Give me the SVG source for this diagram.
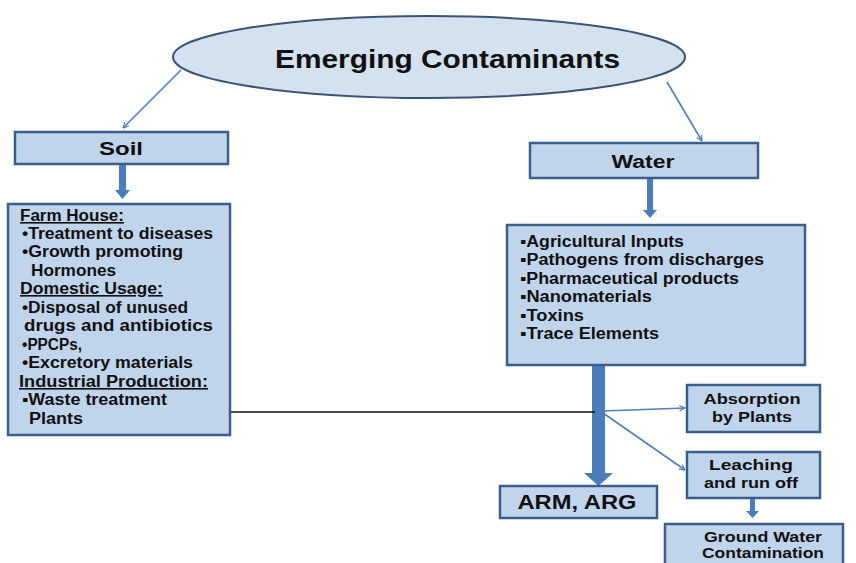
<svg xmlns="http://www.w3.org/2000/svg" width="856" height="563" viewBox="0 0 856 563">
<style>
.box{fill:#c0d4ec;stroke:#3a5f8c;stroke-width:2.5}
.t{font-family:"Liberation Sans",Arial,sans-serif;font-weight:bold;fill:#111}
.c{text-anchor:middle}
.u{text-decoration:underline}
.thin{stroke:#4f7fba;stroke-width:1.6;fill:none}
.fat{fill:#4a7ebb}
</style>
<defs>
<marker id="ah" viewBox="0 0 10 10" refX="9" refY="5" markerWidth="7" markerHeight="7" orient="auto" markerUnits="userSpaceOnUse">
<path d="M1,1 L9,5 L1,9" fill="none" stroke="#4f7fba" stroke-width="1.6"/>
</marker>
</defs>
<rect width="856" height="563" fill="#fff"/>

<g id="connectors">
<line class="thin" x1="181" y1="70" x2="123" y2="128" marker-end="url(#ah)"/>
<line class="thin" x1="667" y1="82" x2="702" y2="141" marker-end="url(#ah)"/>
<path class="fat" d="M119,164 H126 V190 H130 L122.5,199 L115,190 H119 Z"/>
<path class="fat" d="M647,178 H653 V210 H657 L650,218 L643,210 H647 Z"/>
<path class="fat" d="M592,365 H605 V473 H613 L598.5,486 L584,473 H592 Z"/>
<path class="fat" d="M750,498 H755 V511 H759 L752.5,518 L746,511 H750 Z"/>
<line x1="230" y1="412" x2="595" y2="412" stroke="#111" stroke-width="1.5"/>
<line class="thin" x1="603" y1="411" x2="685" y2="408" marker-end="url(#ah)"/>
<line class="thin" x1="603" y1="413" x2="685" y2="470" marker-end="url(#ah)"/>
</g>

<g id="emerging">
<ellipse cx="429" cy="57" rx="256" ry="41" fill="#d3e2ee" stroke="#3a5478" stroke-width="2"/>
<text class="t" x="275" y="68" font-size="25" textLength="345" lengthAdjust="spacingAndGlyphs">Emerging Contaminants</text>
</g>

<g id="soil">
<rect class="box" x="15" y="132" width="213" height="32"/>
<text class="t c" x="121" y="155" font-size="18" textLength="44" lengthAdjust="spacingAndGlyphs">Soil</text>
</g>

<g id="soil-sources">
<rect class="box" x="8" y="204" width="222" height="231"/>
<g class="t" font-size="16">
<text class="u" x="20" y="221" textLength="104" lengthAdjust="spacingAndGlyphs">Farm House:</text>
<text x="22" y="239" textLength="191" lengthAdjust="spacingAndGlyphs">•Treatment to diseases</text>
<text x="22" y="257" textLength="161" lengthAdjust="spacingAndGlyphs">•Growth promoting</text>
<text x="31" y="276" textLength="85" lengthAdjust="spacingAndGlyphs">Hormones</text>
<text class="u" x="20" y="294" textLength="143" lengthAdjust="spacingAndGlyphs">Domestic Usage:</text>
<text x="22" y="313" textLength="166" lengthAdjust="spacingAndGlyphs">•Disposal of unused</text>
<text x="24" y="331" textLength="189" lengthAdjust="spacingAndGlyphs">drugs and antibiotics</text>
<text x="22" y="350" textLength="60" lengthAdjust="spacingAndGlyphs">•PPCPs,</text>
<text x="22" y="368" textLength="171" lengthAdjust="spacingAndGlyphs">•Excretory materials</text>
<text class="u" x="19" y="387" textLength="189" lengthAdjust="spacingAndGlyphs">Industrial Production:</text>
<text x="22" y="405" textLength="145" lengthAdjust="spacingAndGlyphs">▪Waste treatment</text>
<text x="29" y="424" textLength="54" lengthAdjust="spacingAndGlyphs">Plants</text>
</g>
</g>

<g id="water">
<rect class="box" x="530" y="143" width="228" height="35"/>
<text class="t c" x="643" y="168" font-size="18" textLength="63" lengthAdjust="spacingAndGlyphs">Water</text>
</g>

<g id="water-sources">
<rect class="box" x="507" y="225" width="298" height="140"/>
<g class="t" font-size="16">
<text x="520" y="247" textLength="164" lengthAdjust="spacingAndGlyphs">▪Agricultural Inputs</text>
<text x="520" y="265" textLength="244" lengthAdjust="spacingAndGlyphs">▪Pathogens from discharges</text>
<text x="520" y="284" textLength="219" lengthAdjust="spacingAndGlyphs">▪Pharmaceutical products</text>
<text x="520" y="302" textLength="132" lengthAdjust="spacingAndGlyphs">▪Nanomaterials</text>
<text x="520" y="321" textLength="64" lengthAdjust="spacingAndGlyphs">▪Toxins</text>
<text x="520" y="339" textLength="139" lengthAdjust="spacingAndGlyphs">▪Trace Elements</text>
</g>
</g>

<g id="arm-arg">
<rect class="box" x="500" y="486" width="157" height="32"/>
<text class="t c" x="577" y="509" font-size="21" textLength="119" lengthAdjust="spacingAndGlyphs">ARM, ARG</text>
</g>

<g id="absorption">
<rect class="box" x="687" y="385" width="133" height="47"/>
<text class="t c" x="752" y="404" font-size="15.5" textLength="97" lengthAdjust="spacingAndGlyphs">Absorption</text>
<text class="t c" x="752" y="422" font-size="15.5" textLength="80" lengthAdjust="spacingAndGlyphs">by Plants</text>
</g>

<g id="leaching">
<rect class="box" x="687" y="452" width="133" height="46"/>
<text class="t c" x="751" y="470" font-size="15.5" textLength="84" lengthAdjust="spacingAndGlyphs">Leaching</text>
<text class="t c" x="751" y="488" font-size="15.5" textLength="94" lengthAdjust="spacingAndGlyphs">and run off</text>
</g>

<g id="groundwater">
<rect class="box" x="665" y="524" width="178" height="45"/>
<text class="t c" x="763" y="542" font-size="15.5" textLength="118" lengthAdjust="spacingAndGlyphs">Ground Water</text>
<text class="t c" x="763" y="558" font-size="15.5" textLength="122" lengthAdjust="spacingAndGlyphs">Contamination</text>
</g>
</svg>
